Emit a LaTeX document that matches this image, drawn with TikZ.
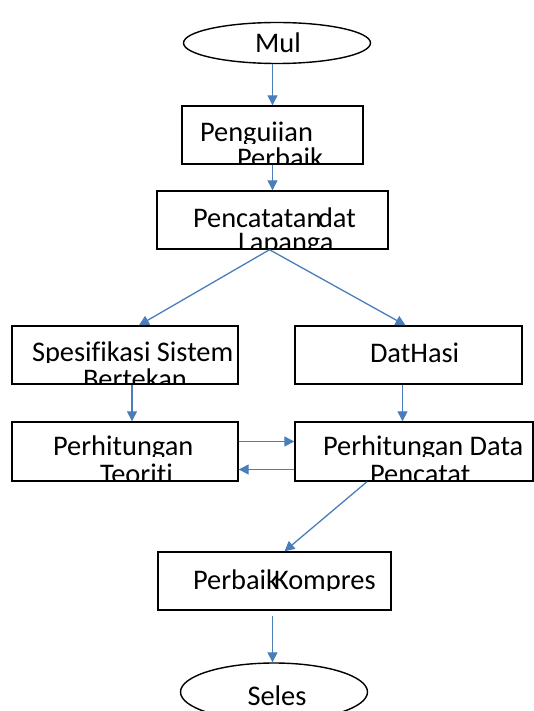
\documentclass[tikz,border=0pt]{standalone}
\usepackage{fontspec}
\setmainfont[Ligatures=NoCommon]{Carlito}
\usetikzlibrary{arrows.meta,shapes.geometric,calc}
\definecolor{arrblue}{HTML}{4A7EBB}
\newcommand\lblfont{\fontsize{28.4}{28.4}\selectfont}
\tikzset{
  box/.style={draw=black, line width=1.4pt, rectangle, inner sep=0pt},
  oval/.style={draw=black, line width=1.4pt, ellipse, inner sep=0pt},
  lbl/.style={font=\lblfont, anchor=base west, inner sep=0pt, outer sep=0pt},
  clbl/.style={font=\lblfont, anchor=base, inner sep=0pt, outer sep=0pt},
  arr/.style={draw=arrblue, line width=1.3pt, -{Triangle[length=10pt,width=10pt]}}
}
\begin{document}
\begin{tikzpicture}[x=1pt,y=-1pt]
\useasboundingbox[fill=white] (0,0) rectangle (534,711);

% shapes
\node[oval, minimum width=187pt, minimum height=41pt] (mul) at (277,43) {};
\node[box, minimum width=181pt, minimum height=58pt] (pen) at (272.5,135) {};
\node[box, minimum width=231pt, minimum height=58pt] (pc) at (272.5,220) {};
\node[box, minimum width=226pt, minimum height=58pt] (spec) at (125,355) {};
\node[box, minimum width=227pt, minimum height=58pt] (dat) at (408.5,355) {};
\node[box, minimum width=226pt, minimum height=59pt] (teo) at (125,451.5) {};
\node[box, minimum width=238pt, minimum height=59pt] (pdc) at (414,451.5) {};
\node[box, minimum width=233pt, minimum height=58pt] (pk) at (274.5,581) {};
\node[oval, minimum width=187pt, minimum height=58pt] (sel) at (274,692) {};

% texts
\node[clbl] (tmul) at (278,53) {Mul};
\begin{scope}\clip (182,106) rectangle (363,143.5);
\node[lbl] (tpen1) at (200,142) {Penguiian};\end{scope}
\begin{scope}\clip (182,143.5) rectangle (363,164);
\node[lbl] (tpen2) at (237,168) {Perbaik};\end{scope}
\begin{scope}\clip (157,191) rectangle (388,228.5);
\node[lbl] (tpc1) at (193,227) {Pencatatan};
\node[lbl] (tpc1b) at (318,227) {dat};\end{scope}
\begin{scope}\clip (157,228.5) rectangle (388,249);
\node[lbl] (tpc2) at (238,251) {Lapanga};\end{scope}
\begin{scope}\clip (12,326) rectangle (238,362.5);
\node[lbl] (tspec1) at (32,361.5) {Spesifikasi Sistem};\end{scope}
\begin{scope}\clip (12,362.5) rectangle (238,384);
\node[lbl] (tspec2) at (83,388) {Bertekan};\end{scope}
\begin{scope}\clip (295,326) rectangle (522,363.5);
\node[lbl] (tdat) at (370,362) {DatHasi};\end{scope}
\begin{scope}\clip (12,422) rectangle (238,456.5);
\node[lbl] (tteo1) at (53,455) {Perhitungan};\end{scope}
\begin{scope}\clip (12,456.5) rectangle (238,481);
\node[lbl] (tteo2) at (100,483) {Teoriti};\end{scope}
\begin{scope}\clip (295,422) rectangle (534,456.5);
\node[lbl] (tpdc1) at (323,455) {Perhitungan Data};\end{scope}
\begin{scope}\clip (295,456.5) rectangle (534,481);
\node[lbl] (tpdc2) at (370,483) {Pencatat};\end{scope}
\begin{scope}\clip (158,552) rectangle (391,590.5);
\node[lbl] (tpk1) at (193,589) {Perbaik};
\node[lbl] (tpk2) at (274,589) {Kompres};\end{scope}
\node[clbl] (tsel) at (277,705) {Seles};

% connector end points
\coordinate (pcs) at ($(pc.south)+(-3,0)$);
\coordinate (datS) at ($(dat.south)+(-6,0)$);
\coordinate (teoA) at ($(teo.east)+(0,-10)$);
\coordinate (pdcB) at ($(pdc.west)+(0,18)$);
\coordinate (pkS) at ($(pk.south)+(-2,5)$);

% connectors
\draw[arr] (mul.south -| pen.north) -- (pen.north);
\draw[arr] (pen.south) -- (pen.south |- pc.north);
\draw[arr] (pcs) -- ($(spec.north)+(14,0)$);
\draw[arr] (pcs) -- ($(dat.north)+(-3,0)$);
\draw[arr] ($(spec.south)+(7,0)$) -- ($(teo.north)+(7,0)$);
\draw[arr] (datS) -- (datS |- pdc.north);
\draw[arr] (teoA) -- (teoA -| pdc.west);
\draw[arr] (pdcB) -- (pdcB -| teo.east);
\draw[arr] ($(pdc.south)+(-47,0)$) -- ($(pk.north)+(10,0)$);
\draw[arr] (pkS) -- (pkS |- sel.north);
\end{tikzpicture}
\end{document}
